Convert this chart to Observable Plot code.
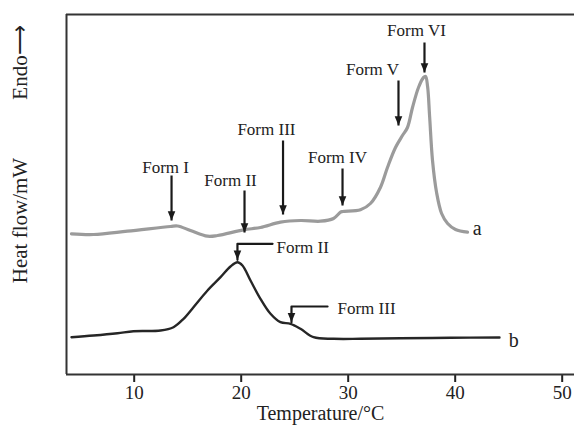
<!DOCTYPE html>
<html><head><meta charset="utf-8">
<script src="https://cdn.jsdelivr.net/npm/d3@7"></script>
<script src="https://cdn.jsdelivr.net/npm/@observablehq/plot@0.6"></script>
<style>
body{margin:0;background:#fff}
svg [aria-label^="x-axis"] line, svg [aria-label^="x-axis"] path{stroke-width:2px}
</style>
</head><body><div id="chart"></div>
<script>
// Curve a (grey)
const tempA = [4.14,6.20,9.37,13.39,14.05,15.26,16.85,17.79,20.21,21.80,23.67,25.54,27.41,28.63,29.28,29.47,31.15,32.08,33.02,33.67,34.42,35.07,35.54,36.01,36.57,37.04,37.23,37.42,37.61,37.88,38.26,38.73,39.29,40.03,41.15];
const flowA = [14.07,14.0,14.33,14.8,14.85,14.4,13.83,13.9,14.47,14.7,15.23,15.4,15.33,15.6,16.23,16.3,16.47,17.1,18.73,20.7,22.7,23.9,24.7,26.7,28.7,29.7,29.8,28.8,25.8,21.4,18.2,16.1,15.1,14.5,14.23];
// Curve b (dark)
const tempB = [4.14,6.20,8.44,9.93,12.46,13.67,14.61,15.54,16.85,18.07,19.0,19.65,20.12,20.87,21.80,22.74,23.67,24.61,25.54,26.76,28.63,31.15,34.89,39.57,44.14];
const flowB = [3.73,3.9,4.13,4.33,4.4,4.73,5.57,6.73,8.4,9.73,10.8,11.23,10.9,9.4,7.57,6.07,5.23,5.07,4.57,3.73,3.57,3.57,3.62,3.67,3.7];

// Annotations on curve a
const formsA = ["Form I","Form II","Form III","Form IV","Form V","Form VI"];
const formsA_arrowX = [13.49,20.31,23.91,29.47,34.70,37.13];
const formsA_arrowTop = [19.9,18.4,23.4,20.6,29.4,33.2];
const formsA_arrowTip = [15.4,14.2,16.0,16.9,24.9,30.2];
const formsA_textX = [12.93,19.0,22.36,29.0,32.27,36.38];
const formsA_textY = [20.7,19.4,24.5,21.7,30.5,34.4];

// Annotations on curve b (bent arrows)
const formsB = ["Form II","Form III"];
const formsB_cornerX = [19.65,24.70];
const formsB_endX = [22.93,28.07];
const formsB_lineY = [13.07,6.8];
const formsB_tipY = [11.47,5.23];
const formsB_textX = [23.30,29.0];
const formsB_textY = [12.73,6.6];

const curveLabels = ["a","b"];
const curveLabelX = [41.65,45.0];
const curveLabelY = [14.6,3.4];

const xTicks = [10,20,30,40,50];
const xDomain = [3.673,51.15];
const yDomain = [0,36];
const xTitle = "Temperature/°C";
const yTitles = ["Endo\u27F6","Heat flow/mW"];
const yTitlePos = [31.2,15.4];

const A = tempA.map((t,i)=>({t, f: flowA[i]}));
const B = tempB.map((t,i)=>({t, f: flowB[i]}));
const annA = formsA.map((l,i)=>({l, x: formsA_arrowX[i], y1: formsA_arrowTop[i], y2: formsA_arrowTip[i], tx: formsA_textX[i], ty: formsA_textY[i]}));
const annB = formsB.map((l,i)=>({l, cx: formsB_cornerX[i], ex: formsB_endX[i], ly: formsB_lineY[i], tip: formsB_tipY[i], tx: formsB_textX[i], ty: formsB_textY[i]}));
const bentPts = annB.flatMap(d=>[{z:d.l,x:d.ex,y:d.ly},{z:d.l,x:d.cx,y:d.ly},{z:d.l,x:d.cx,y:d.tip}]);
const heads = [...annA.map(d=>({x:d.x,y:d.y2})), ...annB.map(d=>({x:d.cx,y:d.tip}))];
const labels = curveLabels.map((l,i)=>({l,x:curveLabelX[i],y:curveLabelY[i]}));
const ytl = yTitles.map((l,i)=>({l,y:yTitlePos[i]}));

const downHead = {
  draw(ctx, size){
    const r = Math.sqrt(size/Math.PI);
    const w = r*0.95, h = r*2.3;
    ctx.moveTo(0,0); ctx.lineTo(-w,-h); ctx.lineTo(w,-h); ctx.closePath();
  }
};

const ink = "#1a1a1a";
const chart = Plot.plot({
  width: 574, height: 425,
  marginLeft: 66, marginRight: 0, marginTop: 14, marginBottom: 51,
  style: {fontFamily: "'Liberation Serif', serif", fontSize: "19px", color: "#222", background: "white"},
  x: {domain: xDomain, ticks: xTicks, tickSize: 8, tickPadding: 3, label: null, tickFormat: d=>String(d)},
  y: {domain: yDomain, axis: null},
  marks: [
    Plot.ruleY([yDomain[0], yDomain[1]], {stroke: "#333", strokeWidth: 2}),
    Plot.ruleX([xDomain[0]], {stroke: "#333", strokeWidth: 2}),
    Plot.line(A, {x:"t", y:"f", stroke:"#9b9b9b", strokeWidth:3.2, curve:"catmull-rom", strokeLinecap:"round"}),
    Plot.line(B, {x:"t", y:"f", stroke:"#262626", strokeWidth:2.4, curve:"catmull-rom", strokeLinecap:"round"}),
    Plot.link(annA, {x1:"x", x2:"x", y1:"y1", y2:"y2", stroke: ink, strokeWidth: 2.2}),
    Plot.line(bentPts, {x:"x", y:"y", z:"z", stroke: ink, strokeWidth: 2.2, curve:"linear"}),
    Plot.dot(heads, {x:"x", y:"y", symbol: downHead, r: 4, fill: ink, stroke: "none"}),
    Plot.text(annA, {x:"tx", y:"ty", text:"l", fontSize: 17, fill: "#222"}),
    Plot.text(annB, {x:"tx", y:"ty", text:"l", fontSize: 17, fill: "#222", textAnchor:"start"}),
    Plot.text(labels, {x:"x", y:"y", text:"l", fontSize: 20, fill: "#222", textAnchor:"start"}),
    Plot.text(ytl, {y:"y", text:"l", frameAnchor:"left", textAnchor:"middle", dx:-46, rotate:-90, fontSize: 21, fill:"#222"}),
    Plot.text([xTitle], {frameAnchor:"bottom", textAnchor:"middle", dy: 45, fontSize: 20, fill:"#222"})
  ]
});
document.getElementById("chart").appendChild(chart);
</script>
</body></html>
